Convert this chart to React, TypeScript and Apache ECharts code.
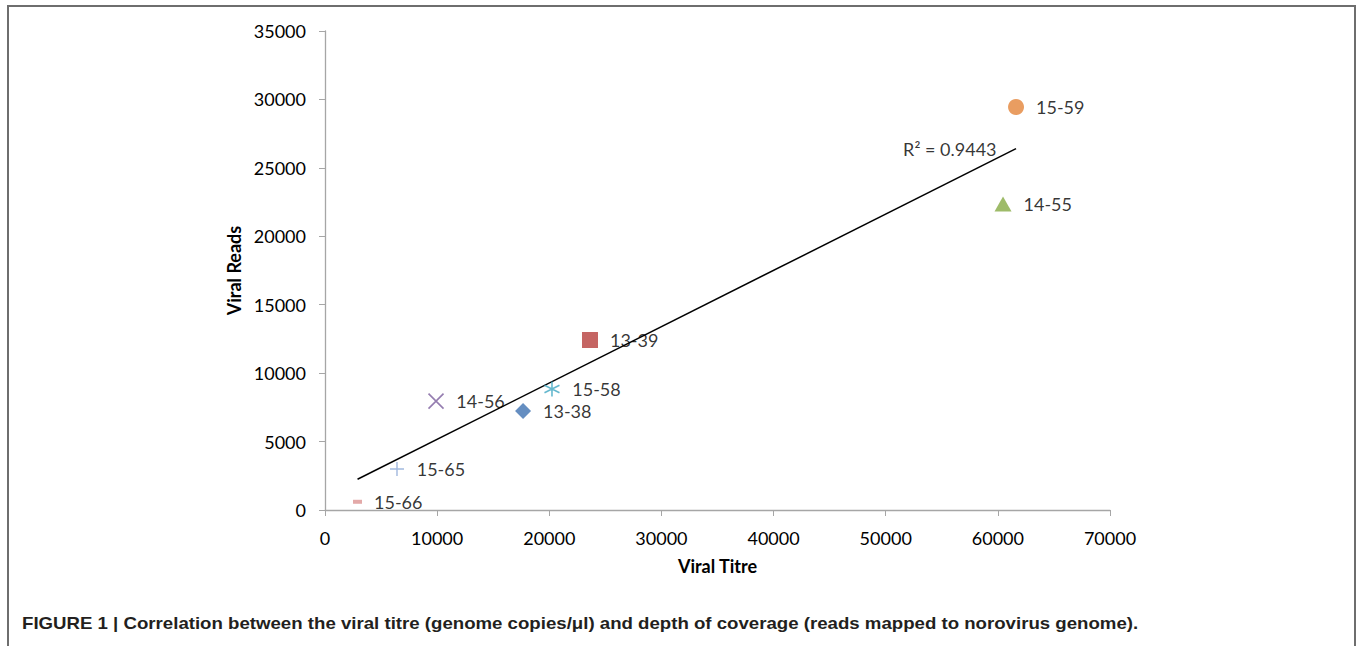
import React, { useEffect, useRef } from "react";
import * as echarts from "echarts";

const sampleNames = ["13-38", "13-39", "14-55", "14-56", "15-58", "15-59", "15-65", "15-66"];
const viralTitre = [17660, 23630, 60460, 9900, 20240, 61620, 6420, 2900];
const viralReads = [7230, 12420, 22360, 7960, 8840, 29450, 3000, 600];
const xTicks = [0, 10000, 20000, 30000, 40000, 50000, 60000, 70000];
const yTicks = [0, 5000, 10000, 15000, 20000, 25000, 30000, 35000];
const rSquaredLabel = "R² = 0.9443";

const markerStyles: Record<string, any> = {
  "13-38": { symbol: "diamond", symbolSize: [16, 16], itemStyle: { color: "#3f72b2" } },
  "13-39": { symbol: "rect", symbolSize: [16, 16], itemStyle: { color: "#b63f3c" } },
  "14-55": { symbol: "triangle", symbolSize: [17, 15], itemStyle: { color: "#86aa44" } },
  "14-56": {
    symbol: "path://M0,0L10,10M10,0L0,10",
    symbolSize: [15, 15],
    itemStyle: { color: "transparent", borderColor: "#7a5c9c", borderWidth: 1.6 },
  },
  "15-58": {
    symbol: "path://M5,0L5,10M0.7,2.5L9.3,7.5M0.7,7.5L9.3,2.5",
    symbolSize: [15, 15],
    itemStyle: { color: "transparent", borderColor: "#3fa6c2", borderWidth: 1.6 },
  },
  "15-59": { symbol: "circle", symbolSize: 16, itemStyle: { color: "#e3843a" } },
  "15-65": {
    symbol: "path://M5,0L5,10M0,5L10,5",
    symbolSize: [14, 14],
    itemStyle: { color: "transparent", borderColor: "#8aa6d6", borderWidth: 1.4 },
  },
  "15-66": { symbol: "rect", symbolSize: [9, 4], itemStyle: { color: "#dc9392" } },
};

export default function App() {
  const ref = useRef<HTMLDivElement>(null);
  useEffect(() => {
    document.body.style.margin = "0";
    if (!ref.current) return;
    const chart = echarts.init(ref.current, undefined, { renderer: "svg" });

    // least-squares trendline from the data
    const n = viralTitre.length;
    const mx = viralTitre.reduce((a, b) => a + b, 0) / n;
    const my = viralReads.reduce((a, b) => a + b, 0) / n;
    let sxy = 0, sxx = 0;
    for (let i = 0; i < n; i++) {
      sxy += (viralTitre[i] - mx) * (viralReads[i] - my);
      sxx += (viralTitre[i] - mx) ** 2;
    }
    const slope = sxy / sxx;
    const intercept = my - slope * mx;
    const xMin = Math.min(...viralTitre);
    const xMax = Math.max(...viralTitre);
    const trendStart = [xMin, intercept + slope * xMin];
    const trendEnd = [xMax, intercept + slope * xMax];

    const fontFamily = "Lato, 'Open Sans', sans-serif";

    const pointSeries = sampleNames.map((name, i) => ({
      type: "scatter",
      name,
      data: [[viralTitre[i], viralReads[i]]],
      ...markerStyles[name],
      label: {
        show: true,
        formatter: name,
        position: "right",
        distance: 12,
        color: "#000",
        fontSize: 18,
        fontFamily,
      },
      z: 3,
    }));

    const axisCommon = {
      type: "value",
      axisLine: { show: true, lineStyle: { color: "#a6a6a6", width: 1.3 } },
      axisTick: { show: true, length: 6, lineStyle: { color: "#a6a6a6" } },
      axisLabel: {
        fontSize: 18,
        fontFamily,
        color: "#000",
        margin: 19,
        formatter: (v: number) => String(v),
      },
      splitLine: { show: false },
      nameLocation: "middle",
      nameTextStyle: { fontSize: 18, fontWeight: "bold", fontFamily, color: "#000" },
    };

    chart.setOption({
      animation: false,
      backgroundColor: "#fff",
      grid: { left: 325, right: 247, top: 31, bottom: 136 },
      xAxis: {
        ...axisCommon,
        min: xTicks[0],
        max: xTicks[xTicks.length - 1],
        interval: xTicks[1] - xTicks[0],
        name: "Viral Titre",
        nameGap: 47,
      },
      yAxis: {
        ...axisCommon,
        min: yTicks[0],
        max: yTicks[yTicks.length - 1],
        interval: yTicks[1] - yTicks[0],
        name: "Viral Reads",
        nameGap: 82,
      },
      series: [
        {
          type: "line",
          name: "trend",
          data: [trendStart, trendEnd],
          showSymbol: false,
          symbol: "none",
          lineStyle: { color: "#000", width: 1.5 },
          z: 2,
        },
        {
          type: "scatter",
          name: "r2",
          data: [trendEnd],
          symbolSize: 1,
          itemStyle: { color: "rgba(0,0,0,0)" },
          label: {
            show: true,
            formatter: rSquaredLabel,
            position: "left",
            distance: 19,
            color: "#000",
            fontSize: 18,
            fontFamily,
          },
          z: 4,
        },
        ...pointSeries,
      ],
      graphic: [
        {
          type: "rect",
          shape: { x: 8, y: 6, width: 1347, height: 700 },
          style: { fill: "none", stroke: "#6e6e6e", lineWidth: 2 },
          silent: true,
        },
        {
          type: "text",
          x: 22,
          y: 623,
          scaleX: 1.097,
          style: {
            text: "FIGURE 1 | Correlation between the viral titre (genome copies/μl) and depth of coverage (reads mapped to norovirus genome).",
            font: "bold 17px 'Liberation Sans', Arial, sans-serif",
            fill: "#231f20",
            textVerticalAlign: "middle",
          },
        },
      ],
    });
    return () => chart.dispose();
  }, []);
  return <div ref={ref} style={{ width: 1357, height: 646 }} />;
}
